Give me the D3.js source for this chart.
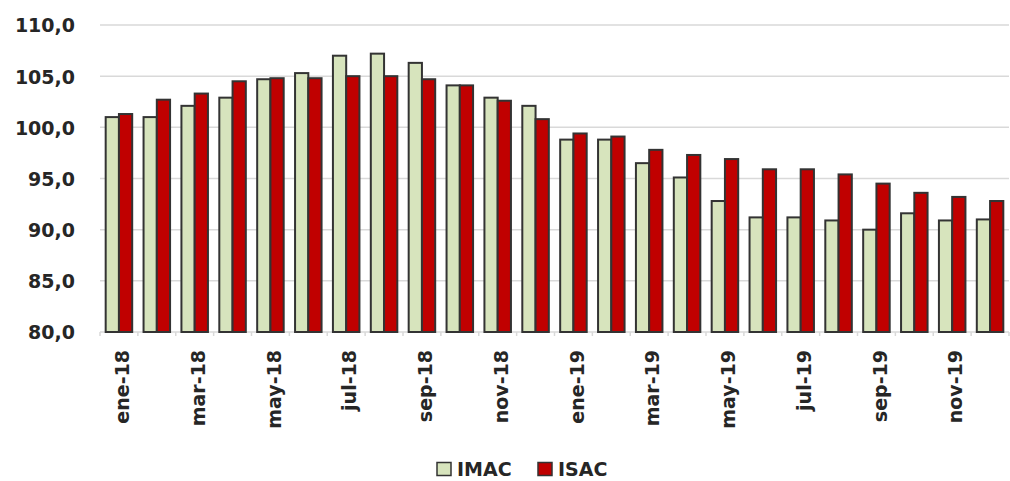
<!DOCTYPE html>
<html><head><meta charset="utf-8">
<script src="https://cdn.jsdelivr.net/npm/d3@7"></script>
<style>body{margin:0;background:#fff}svg{display:block}text{font-family:"DejaVu Sans",sans-serif;font-weight:bold;fill:#262626}</style>
</head><body>
<svg id="c" width="1010" height="481"></svg>
<script>
const categories = ["ene-18","feb-18","mar-18","abr-18","may-18","jun-18","jul-18","ago-18","sep-18","oct-18","nov-18","dic-18",
  "ene-19","feb-19","mar-19","abr-19","may-19","jun-19","jul-19","ago-19","sep-19","oct-19","nov-19","dic-19"];
const imac = [101.0,101.0,102.1,102.9,104.7,105.3,107.0,107.2,106.3,104.1,102.9,102.1,
  98.8,98.8,96.5,95.1,92.8,91.2,91.2,90.9,90.0,91.6,90.9,91.0];
const isac = [101.3,102.7,103.3,104.5,104.8,104.8,105.0,105.0,104.7,104.1,102.6,100.8,
  99.4,99.1,97.8,97.3,96.9,95.9,95.9,95.4,94.5,93.6,93.2,92.8];
const yTicks = [80,85,90,95,100,105,110];
const tickLabels = ["ene-18","mar-18","may-18","jul-18","sep-18","nov-18","ene-19","mar-19","may-19","jul-19","sep-19","nov-19"];
const seriesNames = ["IMAC","ISAC"];
const colors = ["#D7E4BD","#C00000"];

const svg = d3.select("#c");
const mLeft = 100, mRight = 1009, mTop = 25, mBottom = 332;
const x = d3.scaleBand().domain(categories).range([mLeft, mRight]).paddingInner(0.3).paddingOuter(0.15);
const y = d3.scaleLinear().domain([80,110]).range([mBottom, mTop]);
const x1 = d3.scaleBand().domain(seriesNames).range([0, x.bandwidth()]);

// gridlines
svg.append("g").selectAll("line").data(yTicks).join("line")
  .attr("x1", mLeft).attr("x2", mRight)
  .attr("y1", d => y(d)).attr("y2", d => y(d))
  .attr("stroke", "#d9d9d9").attr("stroke-width", 1.5);

// tick marks at band boundaries
const step = x.step();
svg.append("g").selectAll("line").data(d3.range(categories.length + 1)).join("line")
  .attr("x1", i => mLeft + i * step).attr("x2", i => mLeft + i * step)
  .attr("y1", mBottom).attr("y2", mBottom + 4)
  .attr("stroke", "#d9d9d9").attr("stroke-width", 1.5);

// y axis labels
const yAxis = d3.axisLeft(y).tickValues(yTicks).tickSize(0).tickPadding(0)
  .tickFormat(d => d3.format(".1f")(d).replace(".", ","));
const ga = svg.append("g").attr("transform", `translate(75,0)`).call(yAxis);
ga.select(".domain").remove();
ga.selectAll("text").attr("font-size", 19).attr("font-family", null).attr("fill", null).attr("dy", "0.36em");

// bars
const series = [imac, isac];
const g = svg.append("g");
categories.forEach((c, i) => {
  series.forEach((s, k) => {
    g.append("rect")
      .attr("x", x(c) + x1(seriesNames[k]))
      .attr("width", x1.bandwidth())
      .attr("y", y(s[i]))
      .attr("height", y(80) - y(s[i]))
      .attr("fill", colors[k])
      .attr("stroke", "#333").attr("stroke-width", 2);
  });
});

// x axis labels
const xAxis = d3.axisBottom(x).tickValues(tickLabels).tickSize(0).tickPadding(0);
const gx = svg.append("g").attr("transform", `translate(0,${mBottom})`).call(xAxis);
gx.select(".domain").remove();
gx.selectAll("text")
  .attr("font-size", 19).attr("font-family", null).attr("fill", null)
  .attr("text-anchor", "end")
  .attr("transform", "translate(3.5,18) rotate(-90)")
  .attr("x", 0).attr("y", 0).attr("dy", "0.35em");

// legend
const legend = svg.append("g");
const lx = [437, 538];
seriesNames.forEach((n, k) => {
  legend.append("rect").attr("x", lx[k]).attr("y", 462.5).attr("width", 14).attr("height", 13)
    .attr("fill", colors[k]).attr("stroke", "#333").attr("stroke-width", 1.5);
  legend.append("text").attr("x", lx[k] + 20).attr("y", 475.5).attr("font-size", 19).text(n);
});
</script>
</body></html>
